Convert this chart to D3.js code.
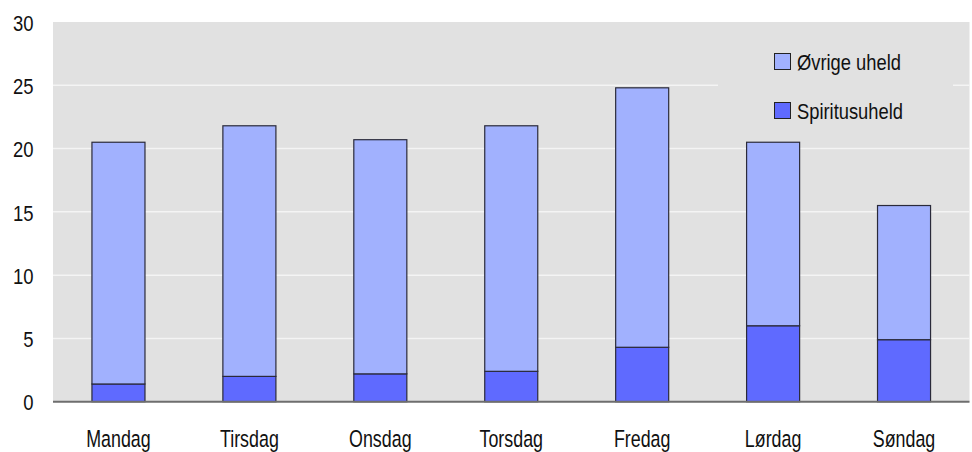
<!DOCTYPE html>
<html>
<head>
<meta charset="utf-8">
<script src="https://cdn.jsdelivr.net/npm/d3@7"></script>
<style>
  html, body { margin: 0; padding: 0; background: #fff; }
  svg { display: block; }
  text { font-family: "Liberation Sans", Arial, sans-serif; fill: #111; }
</style>
</head>
<body>
<svg id="chart" width="972" height="452"></svg>
<script>
// Weekdays on the x axis
const days = ["Mandag", "Tirsdag", "Onsdag", "Torsdag", "Fredag", "Lørdag", "Søndag"];
// Accidents involving alcohol (bottom segment)
const spiritus = [1.4, 2.0, 2.2, 2.4, 4.3, 6.0, 4.9];
// Other accidents (top segment)
const ovrige = [19.1, 19.8, 18.5, 19.4, 20.5, 14.5, 10.6];
// Series names in the legend
const seriesNames = ["Øvrige uheld", "Spiritusuheld"];
const yTicks = [0, 5, 10, 15, 20, 25, 30];

const colors = { "Spiritusuheld": "#5f6aff", "Øvrige uheld": "#a1b1fe" };

const svg = d3.select("#chart");
const plot = { left: 53, right: 969.5, top: 22, bottom: 401.7 };

const x = d3.scaleBand().domain(days).range([plot.left, plot.right]).paddingInner(0.595).paddingOuter(0.2975);
const y = d3.scaleLinear().domain([0, 30]).range([plot.bottom, plot.top]);

// Plot background
svg.append("rect")
  .attr("x", plot.left).attr("y", plot.top)
  .attr("width", plot.right - plot.left).attr("height", plot.bottom - plot.top)
  .attr("fill", "#e1e1e1");

// Horizontal gridlines
svg.append("g").selectAll("line")
  .data(yTicks.filter(t => t > 0 && t < 30))
  .join("line")
  .attr("x1", plot.left).attr("x2", plot.right)
  .attr("y1", d => y(d)).attr("y2", d => y(d))
  .attr("stroke", "#f4f4f4").attr("stroke-width", 1.5);

// Stack the two series
const rows = days.map((d, i) => ({ day: d, "Spiritusuheld": spiritus[i], "Øvrige uheld": ovrige[i] }));
const stack = d3.stack().keys(["Spiritusuheld", "Øvrige uheld"])(rows);

svg.append("g").selectAll("g")
  .data(stack)
  .join("g")
  .attr("fill", s => colors[s.key])
  .selectAll("rect")
  .data(s => s)
  .join("rect")
  .attr("x", d => x(d.data.day))
  .attr("width", x.bandwidth())
  .attr("y", d => y(d[1]))
  .attr("height", d => y(d[0]) - y(d[1]))
  .attr("stroke", "#2a2a3a").attr("stroke-width", 1.2);

// Baseline at zero
svg.append("line")
  .attr("x1", plot.left).attr("x2", plot.right)
  .attr("y1", y(0)).attr("y2", y(0))
  .attr("stroke", "#6e6e6e").attr("stroke-width", 2);

// Y axis labels (condensed)
const yAxis = d3.axisLeft(y).tickValues(yTicks).tickSize(0).tickPadding(0).tickFormat(d3.format("d"));
const gy = svg.append("g").attr("transform", "translate(33.5,0)").call(yAxis);
gy.select(".domain").remove();
gy.selectAll("text").attr("font-size", 21.5).attr("dy", "0.38em")
  .attr("transform", "scale(0.86,1)")
  .style("font-family", "'Liberation Sans', Arial, sans-serif").attr("fill", "#111");

// X axis labels (condensed)
const xAxis = d3.axisBottom(x).tickSize(0).tickPadding(0);
const gx = svg.append("g").attr("transform", "translate(0,446.5)").call(xAxis);
gx.select(".domain").remove();
gx.selectAll("text").attr("font-size", 23.5).attr("dy", 0)
  .attr("transform", "scale(0.76,1)")
  .style("font-family", "'Liberation Sans', Arial, sans-serif").attr("fill", "#111");

// Legend
const legend = svg.append("g");
legend.append("rect")
  .attr("x", 718).attr("y", 38).attr("width", 235).attr("height", 100)
  .attr("fill", "#e1e1e1");
seriesNames.forEach((name, i) => {
  const gy0 = 53.5 + i * 49;
  legend.append("rect")
    .attr("x", 774.5).attr("y", gy0).attr("width", 16).attr("height", 16)
    .attr("fill", colors[name]).attr("stroke", "#222").attr("stroke-width", 1);
  legend.append("text")
    .attr("transform", `translate(797,${gy0 + 16}) scale(0.815,1)`)
    .attr("font-size", 22.5).text(name);
});
</script>
</body>
</html>
